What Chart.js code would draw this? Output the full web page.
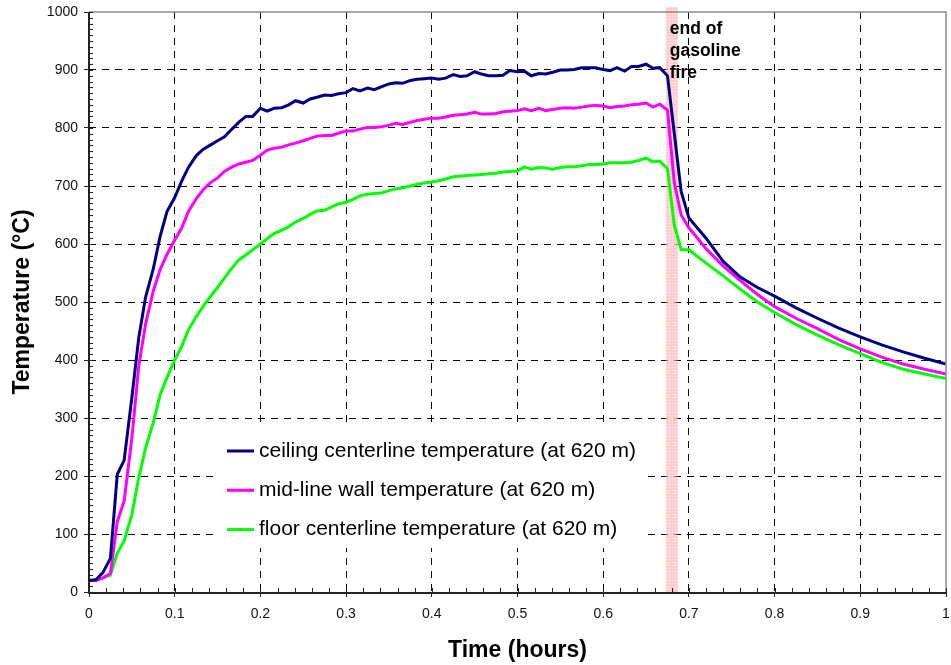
<!DOCTYPE html>
<html><head><meta charset="utf-8">
<script src="https://cdn.jsdelivr.net/npm/chart.js@4/dist/chart.umd.min.js"></script>
<style>html,body{margin:0;padding:0;background:#fff;overflow:hidden}</style>
</head><body>
<canvas id="c" width="951" height="665"></canvas>
<script>
// ---------------- data ----------------
const timeHours = [
  0,0.008,0.016,0.025,0.033,0.041,0.05,0.058,0.066,0.075,
  0.083,0.091,0.1,0.108,0.116,0.125,0.133,0.141,0.15,0.158,
  0.166,0.175,0.183,0.191,0.2,0.208,0.216,0.225,0.233,0.241,
  0.25,0.258,0.266,0.275,0.283,0.291,0.3,0.308,0.316,0.325,
  0.333,0.341,0.35,0.358,0.366,0.375,0.383,0.391,0.4,0.408,
  0.416,0.425,0.433,0.441,0.45,0.458,0.466,0.475,0.483,0.491,
  0.5,0.508,0.516,0.525,0.533,0.541,0.55,0.558,0.566,0.575,
  0.583,0.591,0.6,0.608,0.616,0.625,0.633,0.641,0.65,0.658,
  0.666,0.675,0.683,0.691,0.7,0.72,0.74,0.76,0.78,0.8,
  0.825,0.85,0.875,0.9,0.925,0.95,0.975,1.0
];
const ceilingTemp = [
  20,21,33,58,203,227,335,438,508,557,
  613,656,680,708,732,752,763,770,778,785,
  797,810,820,820,834,829,834,835,840,847,
  843,850,853,857,856,859,861,868,864,869,
  866,871,876,878,877,882,884,885,886,884,
  886,892,889,890,897,893,890,890,891,899,
  897,898,890,894,893,896,900,900,901,904,
  904,904,901,899,904,898,906,906,910,903,
  904,890,790,690,645,610,570,543,525,510,
  490,472,455,440,426,414,403,393
];
const wallTemp = [
  20,20,24,32,121,157,265,389,462,519,
  556,582,607,627,656,678,693,705,714,725,
  732,738,741,744,753,762,765,767,771,774,
  778,782,786,787,787,791,795,795,798,801,
  801,802,805,808,806,810,813,815,817,817,
  819,822,823,824,827,824,824,825,828,829,
  830,833,830,834,830,832,834,835,834,836,
  838,839,838,835,837,838,840,841,843,836,
  841,831,705,650,628,592,562,537,513,492,
  472,454,435,419,405,393,384,376
];
const floorTemp = [
  20,21,24,29,67,88,133,197,248,292,
  340,370,400,423,452,474,492,508,525,541,
  557,573,581,590,600,609,618,624,630,638,
  644,651,657,658,664,669,672,677,683,686,
  687,688,692,695,697,700,703,705,707,709,
  712,716,717,718,719,720,721,722,724,725,
  726,733,729,732,731,729,732,733,733,735,
  737,737,738,740,740,740,741,744,748,742,
  743,730,632,590,590,567,545,522,500,482,
  461,443,426,411,396,384,376,368
];
const seriesLabels = [
  'ceiling centerline temperature (at 620 m)',
  'mid-line wall temperature (at 620 m)',
  'floor centerline temperature (at 620 m)'
];
const seriesColors = ['#000080', '#FF00FF', '#00FF00'];
const xTickValues = [0,0.1,0.2,0.3,0.4,0.5,0.6,0.7,0.8,0.9,1];
const yTickValues = [0,100,200,300,400,500,600,700,800,900,1000];
const fireEndBand = [0.673, 0.687];
const fireNoteLines = ['end of', 'gasoline', 'fire'];
const xTitle = 'Time (hours)';
const yTitle = 'Temperature (\u00B0C)';

// ---------------- chart ----------------
const FONT = '"Liberation Sans", Arial, sans-serif';

function pts(vals){ return timeHours.map((t,i)=>({x:t,y:vals[i]})); }

const datasets = [ceilingTemp, wallTemp, floorTemp].map((v,i)=>({
  label: seriesLabels[i],
  data: pts(v),
  borderColor: seriesColors[i],
  backgroundColor: seriesColors[i],
  borderWidth: 3,
  pointRadius: 0,
  tension: 0,
  fill: false
}));

const bandPlugin = {
  id: 'band',
  beforeDatasetsDraw(chart){
    const {ctx, scales:{x,y}} = chart;
    const x0 = x.getPixelForValue(fireEndBand[0]);
    const x1 = x.getPixelForValue(fireEndBand[1]);
    const yTop = y.getPixelForValue(y.max) - 5;
    const yBot = y.getPixelForValue(y.min) + 2;
    ctx.save();
    ctx.fillStyle = 'rgba(255,150,150,0.55)';
    ctx.fillRect(x0, yTop, x1-x0, yBot-yTop);
    ctx.strokeStyle = 'rgba(255,255,255,0.35)';
    ctx.lineWidth = 1;
    ctx.beginPath();
    for (let yy = yTop; yy < yBot; yy += 3){ ctx.moveTo(x0, yy+0.5); ctx.lineTo(x1, yy+0.5); }
    for (let xx = x0; xx < x1; xx += 3){ ctx.moveTo(xx+0.5, yTop); ctx.lineTo(xx+0.5, yBot); }
    ctx.stroke();
    ctx.restore();
  }
};

const framePlugin = {
  id: 'frame',
  afterDatasetsDraw(chart){
    const {ctx, chartArea:a, scales:{x,y}} = chart;
    ctx.save();
    ctx.strokeStyle = '#8c8c8c';
    ctx.lineWidth = 1.5;
    ctx.beginPath();
    ctx.moveTo(a.left, a.top); ctx.lineTo(a.right, a.top); ctx.lineTo(a.right, a.bottom);
    ctx.stroke();
    ctx.strokeStyle = '#222';
    ctx.lineWidth = 1;
    ctx.beginPath();
    for (let k = 0; k <= 50; k++){
      const px = Math.round(x.getPixelForValue(k*0.02)) + 0.5;
      ctx.moveTo(px, a.bottom); ctx.lineTo(px, a.bottom - 4);
    }
    for (let k = 0; k <= 100; k++){
      const py = Math.round(y.getPixelForValue(k*10)) + 0.5;
      ctx.moveTo(a.left, py); ctx.lineTo(a.left + 4, py);
    }
    ctx.stroke();
    ctx.strokeStyle = '#222';
    ctx.lineWidth = 2;
    ctx.beginPath();
    ctx.moveTo(a.left, a.top); ctx.lineTo(a.left, a.bottom + 1); ctx.lineTo(a.right, a.bottom + 1);
    ctx.stroke();
    ctx.restore();
  }
};

const legendPlugin = {
  id: 'insideLegend',
  afterDatasetsDraw(chart){
    const {ctx, chartArea:a} = chart;
    const bx = a.left + 126, by = a.bottom - 164, bw = 428, bh = 120;
    ctx.save();
    ctx.fillStyle = '#fff';
    ctx.fillRect(bx, by, bw, bh);
    ctx.font = '21px ' + FONT;
    ctx.textBaseline = 'middle';
    ctx.fillStyle = '#000';
    chart.data.datasets.forEach((ds, i) => {
      const cy = by + 23 + i * 39.3;
      ctx.strokeStyle = ds.borderColor;
      ctx.lineWidth = 3;
      ctx.beginPath();
      ctx.moveTo(bx + 12, cy); ctx.lineTo(bx + 39, cy);
      ctx.stroke();
      ctx.fillText(ds.label, bx + 44, cy);
    });
    ctx.restore();
  }
};

const notePlugin = {
  id: 'note',
  afterDraw(chart){
    const {ctx, chartArea:a, scales:{x}} = chart;
    const tx = x.getPixelForValue(fireEndBand[0]) + 4;
    ctx.save();
    ctx.font = 'bold 17.5px ' + FONT;
    ctx.fillStyle = '#000';
    ctx.textBaseline = 'middle';
    fireNoteLines.forEach((s, i) => ctx.fillText(s, tx, a.top + 17 + i * 22));
    ctx.restore();
  }
};

const edgeTransparent = (lo, hi) => (c) => {
  const v = c.tick ? c.tick.value : null;
  return (v === lo || v === hi) ? 'rgba(0,0,0,0)' : '#000';
};

new Chart(document.getElementById('c'), {
  type: 'line',
  data: { datasets },
  options: {
    responsive: false,
    animation: false,
    devicePixelRatio: 1,
    layout: { padding: { left: 0, right: 5, top: 12, bottom: 0 } },
    plugins: { legend: { display: false }, tooltip: { enabled: false } },
    scales: {
      x: {
        type: 'linear', min: 0, max: 1,
        afterBuildTicks: (s) => { s.ticks = xTickValues.map(v => ({value: v})); },
        afterFit: (s) => { s.height = 73; s.paddingLeft = 0; s.paddingRight = 0; },
        grid: { color: edgeTransparent(0, 1), lineWidth: 1, drawTicks: true, tickLength: 5, tickColor: '#222', tickWidth: 1 },
        border: { display: false, dash: [7, 6] },
        ticks: { color: '#111', font: { family: FONT, size: 14 }, padding: 9, maxRotation: 0,
                 callback: (v) => String(+(+v).toFixed(2)) },
        title: { display: true, text: xTitle, color: '#000', font: { family: FONT, size: 23, weight: 'bold' }, padding: { top: 0, bottom: 1 } }
      },
      y: {
        type: 'linear', min: 0, max: 1000,
        afterBuildTicks: (s) => { s.ticks = yTickValues.map(v => ({value: v})); },
        afterFit: (s) => { s.width = 89; s.paddingTop = 0; s.paddingBottom = 0; },
        grid: { color: edgeTransparent(0, 1000), lineWidth: 1, drawTicks: true, tickLength: 5, tickColor: '#222', tickWidth: 1 },
        border: { display: false, dash: [7, 6] },
        ticks: { color: '#111', font: { family: FONT, size: 14 }, padding: 6,
                 callback: (v) => String(v) },
        title: { display: true, text: yTitle, color: '#000', font: { family: FONT, size: 23, weight: 'bold' }, padding: { top: 9, bottom: 0 } }
      }
    }
  },
  plugins: [bandPlugin, framePlugin, legendPlugin, notePlugin]
});
</script>
</body></html>
